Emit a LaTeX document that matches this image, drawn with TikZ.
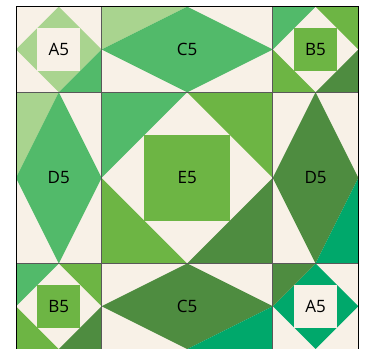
\documentclass[tikz,border=0pt]{standalone}
\usepackage{fontspec}
\setmainfont{Open Sans}
\usepackage{xcolor}

\definecolor{cream}{HTML}{F8F1E7}
\definecolor{leafpale}{HTML}{A9D48F}
\definecolor{leafmid}{HTML}{52BA6A}
\definecolor{leaf}{HTML}{6DB544}
\definecolor{leafdark}{HTML}{4E8C40}
\definecolor{leafteal}{HTML}{00A86B}

\begin{document}
\begin{tikzpicture}[
x=85.6pt, y=-85.6pt,
patchtext/.style={font=\fontsize{17}{20}\selectfont, text=black, inner sep=0pt},
seam/.style={draw=black!65, line width=1pt},
frame/.style={draw=black, line width=1pt}
]
\useasboundingbox (-0.187,-0.078) rectangle (4.124,3.999);
\fill[cream] (0,0) rectangle (4,4);

% A5, top left
\fill[leafpale] (0.5,0) -- (1,0.5) -- (0.5,1) -- (0,0.5) -- cycle;
\fill[cream] (0.25,0.25) rectangle (0.75,0.75);
\fill[leafmid] (1,0.5) -- (1,1) -- (0.5,1) -- cycle;
\node[patchtext] (aone) at (0.5,0.5) {A5};

% C5, top
\fill[leafpale] (1,0) -- (2,0) -- (1,0.5) -- cycle;
\fill[leafmid] (1,0.5) -- (2,0) -- (3,0.5) -- (2,1) -- cycle;
\node[patchtext] (cone) at (2,0.5) {C5};

% B5, top right
\fill[leafmid] (3,0) -- (3.5,0) -- (3,0.5) -- cycle;
\fill[leaf] (3.5,0) -- (4,0) -- (4,0.5) -- cycle;
\fill[leaf] (3,0.5) -- (3,1) -- (3.5,1) -- cycle;
\fill[leafdark] (4,0.5) -- (4,1) -- (3.5,1) -- cycle;
\fill[leaf] (3.25,0.25) rectangle (3.75,0.75);
\node[patchtext] (bone) at (3.5,0.5) {B5};

% D5, left
\fill[leafpale] (0,1) -- (0.5,1) -- (0,2) -- cycle;
\fill[leafmid] (0.5,1) -- (1,2) -- (0.5,3) -- (0,2) -- cycle;
\node[patchtext] (done) at (0.5,2) {D5};

% E5, centre
\fill[leafmid] (1,1) -- (2,1) -- (1,2) -- cycle;
\fill[leaf] (2,1) -- (3,1) -- (3,2) -- cycle;
\fill[leaf] (1,2) -- (1,3) -- (2,3) -- cycle;
\fill[leafdark] (3,2) -- (3,3) -- (2,3) -- cycle;
\fill[leaf] (1.5,1.5) rectangle (2.5,2.5);
\node[patchtext] (eone) at (2,2) {E5};

% D5, right
\fill[leafdark] (3.5,1) -- (4,2) -- (3.5,3) -- (3,2) -- cycle;
\fill[leafteal] (4,2) -- (4,3) -- (3.5,3) -- cycle;
\node[patchtext] (dtwo) at (3.5,2) {D5};

% B5, bottom left
\fill[leafmid] (0,3) -- (0.5,3) -- (0,3.5) -- cycle;
\fill[leaf] (0.5,3) -- (1,3) -- (1,3.5) -- cycle;
\fill[leaf] (0,3.5) -- (0,4) -- (0.5,4) -- cycle;
\fill[leafdark] (1,3.5) -- (1,4) -- (0.5,4) -- cycle;
\fill[leaf] (0.25,3.25) rectangle (0.75,3.75);
\node[patchtext] (btwo) at (0.5,3.5) {B5};

% C5, bottom
\fill[leafdark] (1,3.5) -- (2,3) -- (3,3.5) -- (2,4) -- cycle;
\fill[leafteal] (2,4) -- (3,4) -- (3,3.5) -- cycle;
\node[patchtext] (ctwo) at (2,3.5) {C5};

% A5, bottom right
\fill[leafteal] (3.5,3) -- (4,3.5) -- (3.5,4) -- (3,3.5) -- cycle;
\fill[cream] (3.25,3.25) rectangle (3.75,3.75);
\fill[leafdark] (3,3) -- (3.5,3) -- (3,3.5) -- cycle;
\node[patchtext] (atwo) at (3.5,3.5) {A5};

% seams
\draw[seam] (1,0) -- (1,4);
\draw[seam] (3,0) -- (3,4);
\draw[seam] (0,1) -- (4,1);
\draw[seam] (0,3) -- (4,3);
\draw[frame] (0,4) -- (0,0) -- (4,0) -- (4,4);
\end{tikzpicture}
\end{document}
